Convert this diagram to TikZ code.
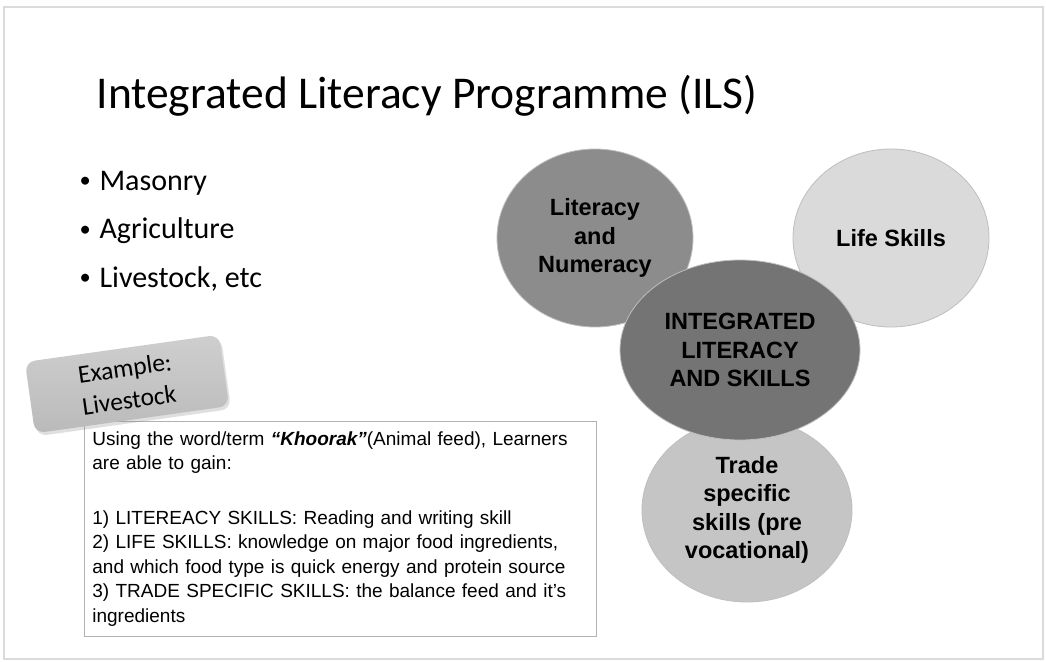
\documentclass[tikz,border=0pt]{standalone}
\usepackage{fontspec}
\setmainfont{Carlito}
\newfontfamily\arialfam{Liberation Sans}
\definecolor{numgray}{RGB}{140,140,140}
\definecolor{coregray}{RGB}{116,116,116}
\definecolor{lifegray}{RGB}{218,218,218}
\definecolor{tradegray}{RGB}{197,197,197}
\definecolor{rimgray}{RGB}{190,190,190}
\usetikzlibrary{shapes.geometric,shadows}
\newcommand\dotmark{\makebox[21pt][l]{\hspace{1pt}\raisebox{2.5pt}{\scalebox{0.75}{\textbullet}}}}
\tikzset{
  disc/.style={ellipse, inner sep=0pt, align=center, draw=rimgray, line width=0.8pt,
               font=\arialfam\bfseries\fontsize{23.5}{28.5}\selectfont},
  item/.style={anchor=base west, font=\fontsize{30}{36}\selectfont},
  tagbox/.style={rounded corners=10pt, minimum width=196pt, minimum height=72pt,
                 top color=black!19, bottom color=black!27, align=left,
                 font=\fontsize{25.5}{32}\selectfont,
                 drop shadow={opacity=0.25, shadow xshift=2pt, shadow yshift=-3pt}},
  notebox/.style={draw=black!30, line width=0.8pt, fill=white, inner xsep=8pt,
                  text width=496pt, minimum height=215pt, align=left,
                  font=\arialfam\fontsize{19}{24.5}\selectfont},
}

\begin{document}
\begin{tikzpicture}[x=1pt,y=-1pt]
  \useasboundingbox (0,0) rectangle (1046,661);
  \fill[white] (0,0) rectangle (1046,661);
  \draw[black!14, line width=1.5pt] (4,7) rectangle (1043,659); % slide edge

  \node[anchor=base west, font=\fontsize{45.5}{54}\selectfont] (title) at (93,108)
    {Integrated Literacy Programme (ILS)};
  \node[item] (masonry) at (75,190) {\dotmark Masonry};
  \node[item] (agri) at (75,238.5) {\dotmark Agriculture};
  \node[item] (stock) at (75,287) {\dotmark Livestock, etc};

  % worked example
  \node[notebox, anchor=north west] (note) at (84,421)
    {Using the word/term \textbf{\textit{“Khoorak”}}(Animal feed), Learners\\
     are able to gain:\\[30pt]
     1) LITEREACY SKILLS: Reading and writing skill\\
     2) LIFE SKILLS: knowledge on major food ingredients,\\
     and which food type is quick energy and protein source\\
     3) TRADE SPECIFIC SKILLS: the balance feed and it’s\\
     ingredients};
  \node[tagbox, rotate=8] (tag) at (127,384) {Example:\\Livestock};

  % the four areas, centre one on top
  \node[disc, fill=numgray, minimum width=196pt, minimum height=178pt] (litnum) at (595,238)
    {Literacy\\and\\Numeracy};
  \node[disc, fill=lifegray, minimum width=196pt, minimum height=178pt] (life) at (891,238)
    {Life Skills};
  \node[disc, fill=tradegray, minimum width=210pt, minimum height=184pt] (trade) at (747,510)
    {Trade\\specific\\skills (pre\\vocational)};
  \node[disc, fill=coregray, minimum width=240pt, minimum height=180pt] (ils) at (740,350)
    {INTEGRATED\\LITERACY\\AND SKILLS};
\end{tikzpicture}
\end{document}
